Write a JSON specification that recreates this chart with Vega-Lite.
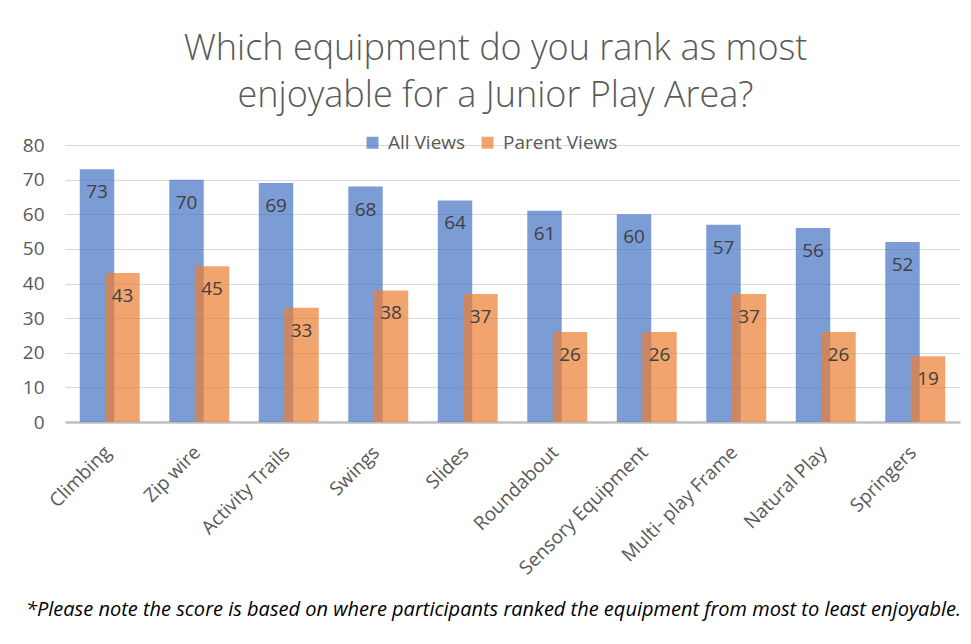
{
  "$schema": "https://vega.github.io/schema/vega-lite/v6.json",
  "width": 895,
  "height": 277,
  "autosize": {"type": "none"},
  "padding": {"left": 65, "top": 145, "right": 11, "bottom": 222},
  "background": "white",
  "title": {
    "text": ["Which equipment do you rank as most", "enjoyable for a Junior Play Area?"],
    "font": "Open Sans",
    "fontSize": 36,
    "fontWeight": 300,
    "color": "#595959",
    "lineHeight": 47,
    "anchor": "middle",
    "dx": -17,
    "offset": 18
  },
  "data": {
    "values": [
      {"item": "Climbing", "series": "All Views", "value": 73},
      {"item": "Zip wire", "series": "All Views", "value": 70},
      {"item": "Activity Trails", "series": "All Views", "value": 69},
      {"item": "Swings", "series": "All Views", "value": 68},
      {"item": "Slides", "series": "All Views", "value": 64},
      {"item": "Roundabout", "series": "All Views", "value": 61},
      {"item": "Sensory Equipment", "series": "All Views", "value": 60},
      {"item": "Multi- play Frame", "series": "All Views", "value": 57},
      {"item": "Natural Play", "series": "All Views", "value": 56},
      {"item": "Springers", "series": "All Views", "value": 52},
      {"item": "Climbing", "series": "Parent Views", "value": 43},
      {"item": "Zip wire", "series": "Parent Views", "value": 45},
      {"item": "Activity Trails", "series": "Parent Views", "value": 33},
      {"item": "Swings", "series": "Parent Views", "value": 38},
      {"item": "Slides", "series": "Parent Views", "value": 37},
      {"item": "Roundabout", "series": "Parent Views", "value": 26},
      {"item": "Sensory Equipment", "series": "Parent Views", "value": 26},
      {"item": "Multi- play Frame", "series": "Parent Views", "value": 37},
      {"item": "Natural Play", "series": "Parent Views", "value": 26},
      {"item": "Springers", "series": "Parent Views", "value": 19}
    ]
  },
  "encoding": {
    "x": {
      "field": "item",
      "type": "nominal",
      "sort": null,
      "scale": {"paddingInner": 0, "paddingOuter": 0},
      "axis": {
        "title": "*Please note the score is based on where participants ranked the equipment from most to least enjoyable.",
        "titleFont": "Open Sans",
        "titleFontSize": 20,
        "titleFontStyle": "italic",
        "titleFontWeight": "normal",
        "titleColor": "#000000",
        "titleX": 428,
        "titleY": 193,
        "titleAlign": "center",
        "titleBaseline": "alphabetic",
        "labelAngle": -45,
        "labelAlign": "right",
        "labelBaseline": "middle",
        "labelPadding": 27,
        "labelOffset": -2,
        "labelFont": "Open Sans",
        "labelFontSize": 19,
        "labelColor": "#595959",
        "labelOverlap": false,
        "ticks": false,
        "domainColor": "#bfbfbf",
        "domainWidth": 2.5,
        "grid": false
      }
    },
    "y": {
      "field": "value",
      "type": "quantitative",
      "scale": {"domain": [0, 80]},
      "axis": {
        "title": null,
        "values": [0, 10, 20, 30, 40, 50, 60, 70, 80],
        "labelFont": "Open Sans",
        "labelFontSize": 19,
        "labelColor": "#595959",
        "labelPadding": 21,
        "ticks": false,
        "domain": false,
        "gridColor": "#d9d9d9",
        "gridWidth": 1
      }
    },
    "color": {
      "field": "series",
      "type": "nominal",
      "scale": {"domain": ["All Views", "Parent Views"], "range": ["#4472C4", "#ED7D31"]},
      "legend": {
        "title": null,
        "orient": "none",
        "direction": "horizontal",
        "legendX": 298,
        "legendY": -12,
        "symbolType": "square",
        "symbolSize": 144,
        "symbolOpacity": 0.7,
        "symbolStrokeWidth": 0,
        "labelFont": "Open Sans",
        "labelFontSize": 19,
        "labelColor": "#595959",
        "labelOffset": 6,
        "columnPadding": 12
      }
    }
  },
  "layer": [
    {
      "transform": [{"filter": "datum.series === 'All Views'"}],
      "mark": {"type": "bar", "width": {"band": 0.385}, "xOffset": -12.75, "opacity": 0.7}
    },
    {
      "transform": [{"filter": "datum.series === 'Parent Views'"}],
      "mark": {"type": "bar", "width": {"band": 0.385}, "xOffset": 12.75, "opacity": 0.7}
    },
    {
      "transform": [{"filter": "datum.series === 'All Views'"}],
      "mark": {"type": "text", "xOffset": -12.75, "dy": 23, "baseline": "middle", "font": "Open Sans", "fontSize": 19, "color": "#404040"},
      "encoding": {"text": {"field": "value", "type": "quantitative"}, "color": {"value": "#404040"}}
    },
    {
      "transform": [{"filter": "datum.series === 'Parent Views'"}],
      "mark": {"type": "text", "xOffset": 12.75, "dy": 23, "baseline": "middle", "font": "Open Sans", "fontSize": 19, "color": "#404040"},
      "encoding": {"text": {"field": "value", "type": "quantitative"}, "color": {"value": "#404040"}}
    }
  ],
  "config": {"view": {"stroke": null}}
}
